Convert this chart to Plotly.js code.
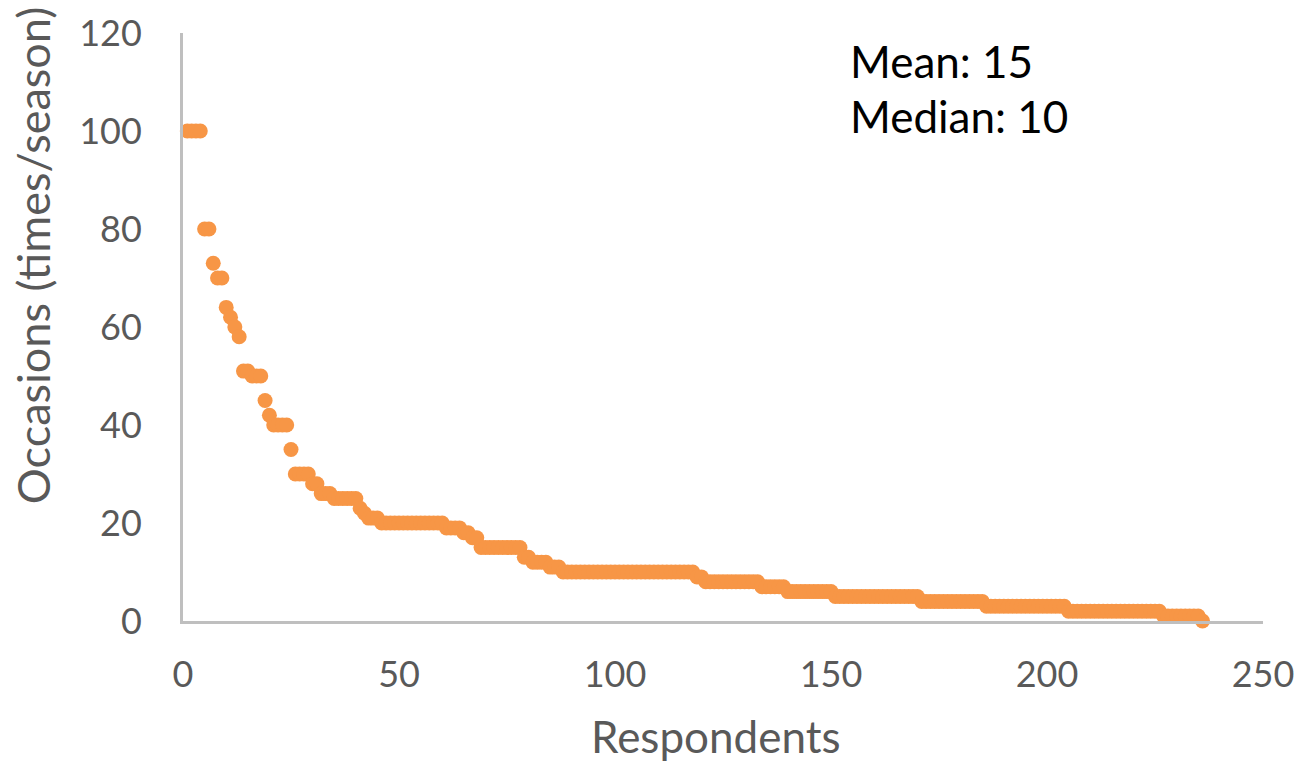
<!DOCTYPE html>
<html>
<head>
<meta charset="utf-8">
<script src="https://cdn.plot.ly/plotly-3.0.1.min.js"></script>
<style>html,body{margin:0;padding:0;background:#fff;}#chart{width:1299px;height:763px;}</style>
</head>
<body>
<div id="chart"></div>
<script>
// Occasions per season, sorted descending (value runs)
const runValues = [100, 80, 73, 70, 64, 62, 60, 58, 51, 50, 45, 42, 40, 35, 30, 28, 26, 25, 23, 22, 21, 20, 19, 18, 17, 15, 13, 12, 11, 10, 9, 8, 7, 6, 5, 4, 3, 2, 1, 0];
const runCounts = [4, 2, 1, 2, 1, 1, 1, 1, 2, 3, 1, 1, 4, 1, 4, 2, 3, 6, 1, 1, 3, 15, 4, 2, 2, 10, 2, 4, 3, 31, 2, 13, 6, 11, 20, 15, 19, 22, 9, 1];
const xTicks = [0, 50, 100, 150, 200, 250];
const yTicks = [0, 20, 40, 60, 80, 100, 120];
const statLines = ["Mean: 15", "Median: 10"];

const occasions = [];
runValues.forEach((v, i) => { for (let k = 0; k < runCounts[i]; k++) occasions.push(v); });
const respondents = occasions.map((_, i) => i + 1);

const FONT = "Lato, 'Open Sans', sans-serif";
const trace = {
  x: respondents, y: occasions, type: 'scatter', mode: 'markers',
  marker: {color: '#F79646', size: 15, line: {width: 0}},
  cliponaxis: false, hoverinfo: 'x+y'
};
const layout = {
  width: 1299, height: 763,
  margin: {l: 183, r: 36, t: 33, b: 142},
  paper_bgcolor: '#ffffff', plot_bgcolor: '#ffffff',
  showlegend: false,
  font: {family: FONT, color: '#595959'},
  xaxis: {
    range: [0, 250], tickvals: xTicks, ticktext: xTicks.map(String),
    showgrid: false, zeroline: false, showline: true, linecolor: '#bfbfbf', linewidth: 3,
    ticks: '', ticklabelstandoff: 20, tickfont: {family: FONT, size: 36, color: '#595959'}
  },
  yaxis: {
    range: [0, 120], tickvals: yTicks, ticktext: yTicks.map(String),
    showgrid: false, zeroline: false, showline: true, linecolor: '#bfbfbf', linewidth: 3,
    ticks: '', ticklabelstandoff: 31, tickfont: {family: FONT, size: 36, color: '#595959'}
  },
  annotations: [
    {text: 'Occasions (times/season)', xref: 'paper', yref: 'paper', x: -0.139, y: 0.622,
     xanchor: 'center', yanchor: 'middle',
     textangle: -90, showarrow: false, font: {family: FONT, size: 45, color: '#595959'}},
    {text: 'Respondents', xref: 'paper', yref: 'paper', x: 0.4935, y: -0.196,
     xanchor: 'center', yanchor: 'middle',
     showarrow: false, font: {family: FONT, size: 44, color: '#595959'}},
    {text: statLines[0], xref: 'paper', yref: 'paper', x: 0.6157, y: 0.952, xanchor: 'left', yanchor: 'middle',
     showarrow: false, font: {family: FONT, size: 44, color: '#000000'}},
    {text: statLines[1], xref: 'paper', yref: 'paper', x: 0.6157, y: 0.858, xanchor: 'left', yanchor: 'middle',
     showarrow: false, font: {family: FONT, size: 44, color: '#000000'}}
  ]
};
Plotly.newPlot('chart', [trace], layout, {displayModeBar: false, staticPlot: true});
</script>
</body>
</html>
